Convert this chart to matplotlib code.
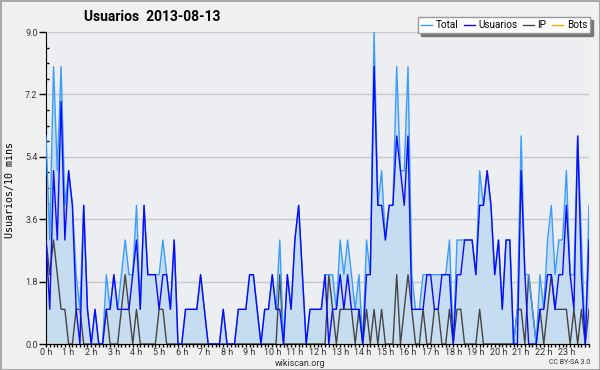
import numpy as np
import matplotlib
matplotlib.use('Agg')
import matplotlib.pyplot as plt
from matplotlib.ticker import MultipleLocator

# Police plus étroite que DejaVu pour les textes
FONT = 'Roboto'

# Données : une valeur toutes les 10 minutes, de 0 h à 24 h (145 points)
usuarios = [3, 1, 5, 3, 7, 3, 5, 4, 1, 0, 4, 1, 0, 1, 0, 0, 1, 1, 2, 1, 1, 1, 1, 2,
            3, 1, 4, 2, 2, 2, 1, 2, 2, 1, 3, 0, 0, 1, 1, 1, 1, 2, 1, 0, 0, 0, 0, 1,
            0, 0, 0, 1, 1, 1, 2, 2, 1, 0, 1, 1, 2, 1, 1, 0, 2, 1, 3, 4, 2, 0, 1, 1,
            1, 1, 2, 0, 1, 1, 2, 1, 2, 1, 1, 1, 0, 2, 2, 8, 4, 4, 3, 4, 4, 6, 5, 4,
            6, 1, 1, 1, 1, 2, 2, 1, 1, 2, 2, 2, 0, 2, 2, 3, 3, 3, 2, 4, 4, 5, 4, 2,
            3, 1, 3, 3, 0, 0, 5, 2, 0, 0, 0, 1, 1, 2, 2, 1, 2, 2, 4, 2, 1, 6, 2, 0,
            3]
ip = [3, 2, 3, 2, 1, 1, 0, 0, 1, 1, 0, 0, 0, 0, 0, 0, 1, 0, 0, 0, 1, 2, 1, 0,
      1, 0, 0, 0, 0, 0, 1, 1, 0, 0, 0, 0, 0, 0, 0, 0, 0, 0, 0, 0, 0, 0, 0, 0,
      0, 0, 0, 0, 0, 0, 0, 0, 0, 0, 0, 0, 0, 0, 2, 0, 0, 0, 0, 0, 0, 0, 0, 0,
      0, 0, 0, 2, 1, 0, 1, 1, 1, 1, 0, 1, 0, 1, 0, 1, 0, 1, 0, 0, 0, 2, 0, 1,
      2, 1, 0, 0, 1, 0, 0, 1, 1, 0, 0, 1, 0, 1, 1, 0, 0, 0, 0, 1, 0, 0, 0, 0,
      0, 0, 0, 0, 0, 1, 1, 0, 2, 1, 0, 1, 0, 1, 2, 1, 1, 1, 1, 0, 1, 0, 1, 0,
      1]
total = [6, 3, 8, 5, 8, 4, 5, 4, 2, 1, 4, 1, 0, 1, 0, 0, 2, 1, 2, 1, 2, 3, 2, 2,
         4, 1, 4, 2, 2, 2, 2, 3, 2, 1, 3, 0, 0, 1, 1, 1, 1, 2, 1, 0, 0, 0, 0, 1,
         0, 0, 0, 1, 1, 1, 2, 2, 1, 0, 1, 1, 2, 1, 3, 0, 2, 1, 3, 4, 2, 0, 1, 1,
         1, 1, 2, 2, 2, 1, 3, 2, 3, 2, 1, 2, 0, 3, 2, 9, 4, 5, 3, 4, 4, 8, 5, 5,
         8, 2, 1, 1, 2, 2, 2, 2, 2, 2, 2, 3, 0, 3, 3, 3, 3, 3, 2, 5, 4, 5, 4, 2,
         3, 1, 3, 3, 0, 1, 6, 2, 2, 1, 0, 2, 1, 3, 4, 2, 3, 3, 5, 2, 2, 6, 3, 0,
         4]
bots = [0] * 145

hours = np.arange(len(total)) / 6.0
hour_labels = [f"{h} h" for h in range(24)]
yticks = np.arange(0, 9.01, 1.8)

fig = plt.figure(figsize=(6, 3.7), dpi=100, facecolor='#f0f0f0',
                 edgecolor='#a8a8a8', linewidth=2)
ax = fig.add_axes([46/600, 1 - 344/370, 543/600, 312/370])
ax.set_facecolor('#eceef1')

# Courbes
ax.fill_between(hours, total, 0, color='#c6dcf0', lw=0, zorder=1)
ax.plot(hours, bots, color='#ffa500', lw=1, zorder=1, label='Bots')
ax.plot(hours, ip, color='#444444', lw=1, zorder=3, label='IP')
ax.plot(hours, total, color='#3a9cff', lw=1, zorder=3, label='Total')
ax.plot(hours, usuarios, color='#0a0aff', lw=1, zorder=4, label='Usuarios')

# Axes
ax.set_xlim(0, 24)
ax.set_ylim(0, 9)
ax.set_yticks(yticks)
ax.set_yticklabels([f"{v:.1f}" for v in yticks])
ax.yaxis.set_minor_locator(MultipleLocator(0.45))
ax.set_xticks(range(24))
ax.set_xticklabels(hour_labels)
ax.xaxis.set_minor_locator(MultipleLocator(1/6))
ax.grid(axis='y', color='#c8c8c8', lw=1, zorder=0)
ax.set_axisbelow(True)
for side in ['top', 'right']:
    ax.spines[side].set_visible(False)
ax.tick_params(axis='y', which='major', direction='out', length=5, width=1,
               labelsize=6.5, pad=1, labelcolor='#333333')
ax.tick_params(axis='y', which='minor', direction='in', length=2, width=1)
ax.tick_params(axis='x', which='both', direction='out', length=2.5, width=1,
               labelsize=6.5, pad=0.5, labelcolor='#333333')
for lab in ax.get_xticklabels() + ax.get_yticklabels():
    lab.set_family(FONT)

# Titre et textes
fig.text(10/600, 1 - 190/370, "Usuarios/10 mins", rotation=90, ha='center',
         va='center', family='DejaVu Sans Mono', fontsize=7.2)
fig.text(152/600, 1 - 17/370, "Usuarios  2013-08-13", ha='center', va='center',
         family=FONT, fontsize=10, fontweight='bold')
fig.text(300/600, 1 - 363/370, "wikiscan.org", ha='center', va='center',
         family=FONT, fontsize=6.5, color='#333333')
fig.text(590/600, 1 - 363/370, "CC BY-SA 3.0", ha='right', va='center',
         family=FONT, fontsize=5, color='#333333')

# Légende
handles, labels = ax.get_legend_handles_labels()
order = [labels.index(n) for n in ['Total', 'Usuarios', 'IP', 'Bots']]
leg = ax.legend([handles[i] for i in order], [labels[i] for i in order],
                loc='upper right', bbox_to_anchor=(590/600, 1 - 17/370),
                bbox_transform=fig.transFigure, ncol=4, frameon=True,
                fancybox=False, shadow={'color': '#777777', 'alpha': 1},
                handlelength=1.1, handletextpad=0.35, columnspacing=0.55,
                borderpad=0.3, borderaxespad=0,
                prop={'family': FONT, 'size': 7.2})
leg.get_frame().set_edgecolor('#999999')
leg.get_frame().set_linewidth(1)

plt.savefig("out.png", dpi=100, facecolor=fig.get_facecolor(),
            edgecolor=fig.get_edgecolor())
